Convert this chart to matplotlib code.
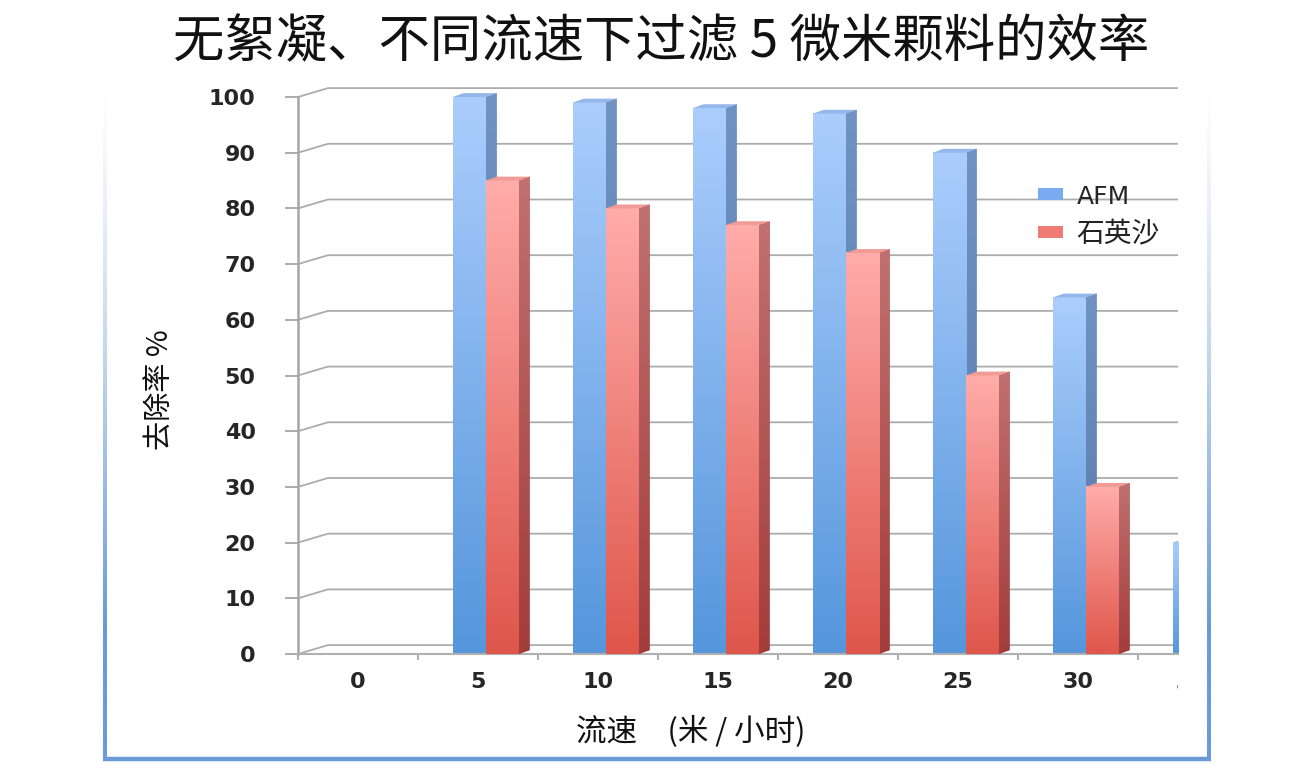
import matplotlib
matplotlib.use('Agg')
import matplotlib.pyplot as plt
import numpy as np
from matplotlib.patches import Polygon, Patch
from matplotlib.colors import to_rgb
from matplotlib.transforms import Bbox, TransformedBbox

plt.rcParams['font.family'] = ['Noto Sans CJK SC', 'DejaVu Sans']

# data
categories = ['0', '5', '10', '15', '20', '25', '30', '35']
afm = [0, 100, 99, 98, 97, 90, 64, 20]
quartz = [0, 85, 80, 77, 72, 50, 30, 10]
series_names = ['AFM', '石英沙']
yticks = list(range(0, 101, 10))

title = '无絮凝、不同流速下过滤 5 微米颗料的效率'
xlabel = '流速　(米 / 小时)'
ylabel = '去除率 %'

W, H = 1313, 765
fig = plt.figure(figsize=(W / 100, H / 100), dpi=100)

# frame around the chart area (blue, fading out at the top on the sides)
fr = fig.add_axes([0, 0, 1, 1], zorder=-5)
fr.set_xlim(0, W)
fr.set_ylim(H, 0)
fr.axis('off')
frame_col = to_rgb('#6a9bd8')
ramp = np.clip(np.linspace(0, 1.25, 200), 0, 1) ** 1.3
grad = np.zeros((200, 1, 4))
grad[:, 0, :3] = frame_col
grad[:, 0, 3] = ramp
for xl in (103, 1207):
    fr.imshow(grad, extent=(xl, xl + 4, 760, 76), aspect='auto', interpolation='bilinear')
fr.plot([103, 1211], [759, 759], color=frame_col, lw=3.2, solid_capstyle='butt')

# main axes
ymax = 103
ax = fig.add_axes([298 / W, (H - 654) / H, 880 / W, ymax * 5.57 / H])
xmax = 880 / 120
ax.set_xlim(0, xmax)
ax.set_ylim(0, ymax)

# back wall gridlines with the 3D slant
gx, gy = 0.25, 1.6
for v in yticks:
    ax.plot([0, gx, xmax], [v, v + gy, v + gy], color='#acacac', lw=1.3, zorder=1)
ax.plot([0, xmax], [0, 0], color='#b8b8b8', lw=1.3, zorder=1)

bw = 0.275
dx, dy = 0.09, 0.7
styles = [
    dict(top='#abcdfc', bot='#5596dc', side_t='#7093c4', side_b='#5676a6', cap='#93b7ea', off=0.29),
    dict(top='#ffacaa', bot='#df564b', side_t='#c07070', side_b='#a23d3a', cap='#f29a96', off=0.565),
]


def vgrad(c_top, c_bot, n=100):
    a = np.array(to_rgb(c_top))
    b = np.array(to_rgb(c_bot))
    t = np.linspace(0, 1, n)[:, None]
    return (a * (1 - t) + b * t)[:, None, :]


for i in range(len(categories)):
    for vals, st, z in zip([afm, quartz], styles, [2, 3]):
        v = vals[i]
        if v <= 0:
            continue
        x0 = i + st['off']
        x1 = x0 + bw
        ax.imshow(vgrad(st['top'], st['bot']), extent=(x0, x1, 0, v), aspect='auto',
                  interpolation='bilinear', zorder=z + 0.2)
        side = Polygon([(x1, 0), (x1 + dx, dy), (x1 + dx, v + dy), (x1, v)], closed=True,
                       facecolor=st['side_b'], edgecolor='none', zorder=z)
        ax.add_patch(side)
        im = ax.imshow(vgrad(st['side_t'], st['side_b']), extent=(x1, x1 + dx, 0, v + dy),
                       aspect='auto', interpolation='bilinear', zorder=z + 0.1)
        im.set_clip_path(side)
        ax.add_patch(Polygon([(x0, v), (x1, v), (x1 + dx, v + dy), (x0 + dx, v + dy)], closed=True,
                             facecolor=st['cap'], edgecolor='none', zorder=z + 0.3))

ax.set_xlim(0, xmax)
ax.set_ylim(0, ymax)

for s in ['top', 'right']:
    ax.spines[s].set_visible(False)
ax.spines['left'].set_color('#a6a6a6')
ax.spines['left'].set_linewidth(1.8)
ax.spines['left'].set_bounds(0, 100)
ax.spines['bottom'].set_color('#b0b0b0')
ax.spines['bottom'].set_linewidth(1.5)
ax.patch.set_alpha(0)

ax.set_yticks(yticks)
ax.set_yticklabels([str(v) for v in yticks])
ax.tick_params(axis='y', direction='out', length=9.5, width=1.3, color='#a6a6a6', pad=21,
               labelsize=16, labelcolor='#262626')
for t in ax.get_yticklabels():
    t.set_fontweight('bold')
    t.set_family('DejaVu Sans')

ax.set_xticks(range(0, 8))
ax.set_xticklabels([])
ax.tick_params(axis='x', which='major', direction='out', length=4.5, width=1.3, color='#a6a6a6')
ax.set_xticks([i + 0.5 for i in range(len(categories) - 1)], minor=True)
ax.set_xticklabels(categories[:-1], minor=True)
ax.tick_params(axis='x', which='minor', length=0, pad=13, labelsize=16, labelcolor='#262626')
for t in ax.get_xticklabels(minor=True):
    t.set_fontweight('bold')
    t.set_family('DejaVu Sans')

# last category label is cut by the plot edge
last = ax.text(len(categories) - 0.56, -5.2, categories[-1], ha='center', va='center',
               fontsize=16, fontweight='bold', color='#262626', family='DejaVu Sans')
last.set_clip_on(True)
last.set_clip_box(TransformedBbox(Bbox([[0, -1], [1, 1]]), ax.transAxes))

# legend
handles = [Patch(facecolor='#7aaaf0', edgecolor='none'), Patch(facecolor='#f07a76', edgecolor='none')]
leg = fig.legend(handles, series_names, loc='center left', bbox_to_anchor=(1024 / W, 1 - 217 / H),
                 frameon=False, handlelength=0.9, handleheight=0.28, handletextpad=0.5,
                 labelspacing=0.35, borderpad=0, fontsize=20)
leg.get_texts()[0].set_family('DejaVu Sans')
leg.get_texts()[0].set_fontsize(18)
leg.get_texts()[0].set_color('#262626')
leg.get_texts()[1].set_color('#222222')

fig.text(661 / W, 1 - 42 / H, title, ha='center', va='center', fontsize=37, color='#111111')
fig.text(160 / W, 1 - 390 / H, ylabel, ha='center', va='center', rotation=90, fontsize=21,
         color='#111111')
fig.text(691 / W, 1 - 732 / H, xlabel, ha='center', va='center', fontsize=22, color='#111111')

fig.savefig('out.png', dpi=100)
